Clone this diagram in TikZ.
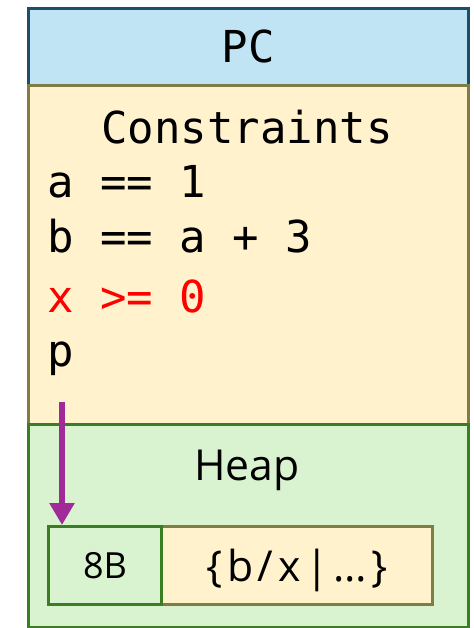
\documentclass[tikz,border=0pt]{standalone}
\usepackage{fontspec}
\setmainfont{Open Sans}
\setmonofont{DejaVu Sans Mono}
\usetikzlibrary{arrows.meta, positioning}
\definecolor{PCf}{RGB}{193,228,245}
\definecolor{PCl}{RGB}{31,78,107}
\definecolor{CSf}{RGB}{255,242,204}
\definecolor{CSl}{RGB}{127,124,68}
\definecolor{HPf}{RGB}{217,242,208}
\definecolor{HPl}{RGB}{58,125,34}
\definecolor{PTR}{RGB}{160,43,152}

\begin{document}
\begin{tikzpicture}[x=0.75pt, y=-0.75pt,
  panel/.style={draw=#1, line width=2.25pt, anchor=north west,
                minimum width=330pt, inner sep=0pt},
  cellbox/.style={draw=#1, line width=2.25pt, anchor=north west,
                  minimum height=58.5pt, inner sep=0pt, text depth=0pt},
  mono/.style={font=\ttfamily\fontsize{33}{39}\selectfont, inner sep=0pt},
  cline/.style={mono, anchor=base west},
  ptr/.style={-{Triangle[length=16.5pt, width=18pt]}, line width=4.5pt, draw=PTR}
]
\useasboundingbox (0,0) rectangle (474,628);

% stacked panels
\node[panel=PCl, fill=PCf, minimum height=58.1pt, mono,
      text height=23.5pt, text depth=0pt] (pc) at (26.5,6.5) {PC};
\node[panel=CSl, fill=CSf, minimum height=254.25pt] (cs) at (26.5,84) {};
\node[panel=HPl, fill=HPf, minimum height=152.25pt] (hp) at (26.5,423) {};

% constraints
\node[mono, anchor=base] (cstitle) at (247,143) {Constraints};
\node[cline]            (ca) at (47,197) {a == 1};
\node[cline]            (cb) at (47,252) {b == a + 3};
\node[cline, text=red]  (cx) at (47,312) {x >= 0};
\node[cline]            (p)  at (47,366) {p};

% heap
\node[anchor=base, font=\fontsize{32}{38}\selectfont] (hptitle) at (247,480) {Heap};
\node[cellbox=CSl, fill=CSf, minimum width=203.25pt, text height=24pt,
      font=\fontsize{32}{38}\selectfont\addfontfeature{LetterSpace=11}]
      (data) at (160,525) {\{b/x|…\}};
\node[cellbox=HPl, fill=HPf, minimum width=84.75pt, text height=20pt,
      font=\fontsize{27}{32}\selectfont] (cell) at (47,525) {8B};

\coordinate (ptrtop) at (62,402);
\draw[ptr] (ptrtop) -- (ptrtop |- cell.north);
\end{tikzpicture}
\end{document}
